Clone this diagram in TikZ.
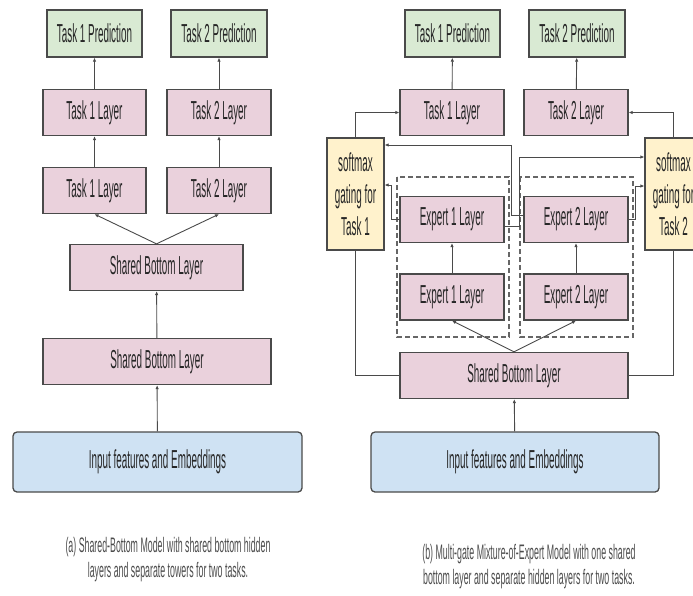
\documentclass[tikz,border=0pt]{standalone}
\usepackage{fontspec}
\setmainfont{Liberation Sans}[FakeStretch=0.38]
\newfontfamily\capfont{Liberation Sans}[FakeStretch=0.42]
\usepackage{color}
\usetikzlibrary{arrows.meta}

\definecolor{predgreen}{HTML}{D9EAD3}
\definecolor{layerpink}{HTML}{EAD1DC}
\definecolor{gateyellow}{HTML}{FFF2CC}
\definecolor{inputblue}{HTML}{CFE2F3}
\definecolor{linegray}{HTML}{4A4A4A}

\begin{document}
\begin{tikzpicture}[x=1pt,y=1pt]
				\tikzstyle{every node}+=[inner sep=0pt]
				\tikzstyle{box}=[draw=linegray, line width=1.3pt, text=black!85, font=\fontsize{26}{28}\selectfont]
				\tikzstyle{pred}=[box, fill=predgreen, minimum height=47pt]
				\tikzstyle{layer}=[box, fill=layerpink, minimum height=46pt]
				\tikzstyle{gate}=[box, fill=gateyellow, align=center, font=\fontsize{26}{32}\selectfont]
				\tikzstyle{inp}=[box, fill=inputblue, rounded corners=4pt, minimum height=60pt]
				\tikzstyle{captext}=[align=center, text=black!70, font=\capfont\fontsize{21}{25}\selectfont]
				\tikzstyle{arr}=[draw=linegray, line width=0.9pt, -{Latex[length=4pt,width=3.5pt]}]
				\tikzstyle{lin}=[draw=linegray, line width=0.9pt]
				\tikzstyle{expgroup}=[draw=black!60, line width=1.7pt, dash pattern=on 5pt off 3pt]
				\clip (0,0) rectangle (693,-595);
				% (a) shared bottom
				\node [pred, minimum width=95pt] (preda1) at (94.5,-33.5) {Task 1 Prediction};
				\node [pred, minimum width=96pt] (preda2) at (219,-33.5) {Task 2 Prediction};
				\node [layer, minimum width=103pt] (towera1) at (94.5,-112.5) {Task 1 Layer};
				\node [layer, minimum width=104pt] (towera2) at (219,-112.5) {Task 2 Layer};
				\node [layer, minimum width=103pt] (lowera1) at (94.5,-190.5) {Task 1 Layer};
				\node [layer, minimum width=104pt] (lowera2) at (219,-190.5) {Task 2 Layer};
				\node [layer, minimum width=173pt] (shareda2) at (156.5,-267.5) {Shared Bottom Layer};
				\node [layer, minimum width=228pt] (shareda1) at (157,-361.5) {Shared Bottom Layer};
				\node [inp, minimum width=289pt] (inputa) at (157.5,-462) {Input features and Embeddings};
				\node [captext] (capa) at (168,-560) {(a) Shared-Bottom Model with shared bottom hidden\\layers and separate towers for two tasks.};
				\draw [arr] (towera1) -- (preda1);
				\draw [arr] (towera2) -- (preda2);
				\draw [arr] (lowera1) -- (towera1);
				\draw [arr] (lowera2) -- (towera2);
				\draw [arr] (shareda2.north) -- (lowera1.south);
				\draw [arr] (shareda2.north) -- (lowera2.south);
				\draw [arr] (shareda1) -- (shareda2);
				\draw [arr] (inputa) -- (shareda1);
				% (b) MMoE
				\draw [expgroup] (397,-177) rectangle (509,-337);
				\draw [expgroup] (520,-177) rectangle (633,-337);
				\node [pred, minimum width=95pt] (predb1) at (452.5,-33.5) {Task 1 Prediction};
				\node [pred, minimum width=96pt] (predb2) at (577,-33.5) {Task 2 Prediction};
				\node [layer, minimum width=104pt] (towerb1) at (452,-112.5) {Task 1 Layer};
				\node [layer, minimum width=104pt] (towerb2) at (576,-112.5) {Task 2 Layer};
				\node [gate, minimum width=57pt, minimum height=112pt] (gate1) at (355.5,-194) {softmax\\gating for\\Task 1};
				\node [gate, minimum width=57pt, minimum height=112pt] (gate2) at (673.5,-194) {softmax\\gating for\\Task 2};
				\node [layer, minimum width=104pt] (expu1) at (452,-219.5) {Expert 1 Layer};
				\node [layer, minimum width=104pt] (expu2) at (576,-219.5) {Expert 2 Layer};
				\node [layer, minimum width=104pt] (expl1) at (452,-297) {Expert 1 Layer};
				\node [layer, minimum width=104pt] (expl2) at (576,-297) {Expert 2 Layer};
				\node [layer, minimum width=228pt] (sharedb) at (514,-375.5) {Shared Bottom Layer};
				\node [inp, minimum width=288pt] (inputb) at (515,-462) {Input features and Embeddings};
				\node [captext] (capb) at (529,-567) {(b) Multi-gate Mixture-of-Expert Model with one shared\\bottom layer and separate hidden layers for two tasks.};
				\draw [arr] (towerb1) -- (predb1);
				\draw [arr] (towerb2) -- (predb2);
				\draw [arr] (expl1) -- (expu1);
				\draw [arr] (expl2) -- (expu2);
				\draw [arr] (sharedb.north) -- (expl1.south);
				\draw [arr] (sharedb.north) -- (expl2.south);
				\draw [arr] (inputb) -- (sharedb);
				\draw [lin] (sharedb.west) -| (gate1.south);
				\draw [lin] (sharedb.east) -| (gate2.south);
				\draw [arr] (gate1.north) |- (towerb1.west);
				\draw [arr] (gate2.north) |- (towerb2.east);
				\draw [arr] (expu1.west) -- ++(-8,0) |- ([yshift=9pt]gate1.east);
				\draw [arr] ([yshift=4pt]expu2.west) -- ++(-12,0) |- ([yshift=49pt]gate1.east);
				\draw [arr] ([yshift=-7pt]expu1.east) -- ++(15,0) |- ([yshift=37pt]gate2.west);
				\draw [arr] (expu2.east) -- ++(7,0) |- ([yshift=8pt]gate2.west);
\end{tikzpicture}
\end{document}
